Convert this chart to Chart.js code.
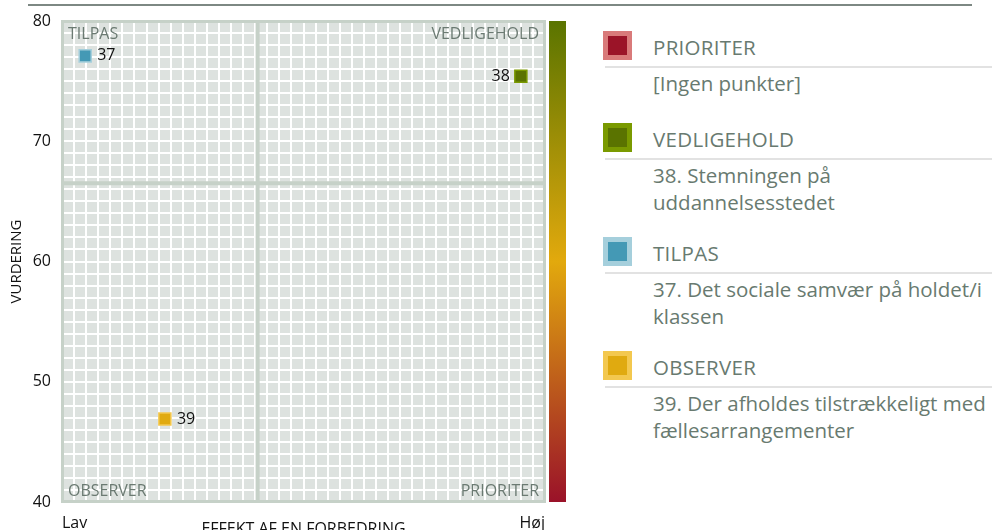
<!DOCTYPE html>
<html>
<head>
<meta charset="utf-8">
<script src="https://cdn.jsdelivr.net/npm/chart.js@4.4.0/dist/chart.umd.min.js"></script>
<style>
    body { margin: 0; width: 992px; height: 530px; overflow: hidden; background: #fff; position: relative; font-family: 'Open Sans', sans-serif; }
    #topLine { position: absolute; left: 28px; top: 4px; width: 944px; height: 2px; background: #7d8883; }
    #chartWrap { position: absolute; left: 0; top: 0; width: 580px; height: 530px; }
    .item { position: absolute; left: 603px; width: 389px; color: #687a70; font-size: 20.5px; }
    .head { height: 29px; display: flex; align-items: center; }
    .box { width: 29px; height: 29px; box-sizing: border-box; border: 5px solid; }
    .name { margin-left: 21px; line-height: 29px; padding-top: 4px; letter-spacing: 0.3px; }
    .sep { margin-top: 6px; margin-left: 2px; height: 2px; background: #e2e2e2; }
    .desc { margin-left: 50px; line-height: 27px; margin-top: 2px; white-space: nowrap; }
</style>
</head>
<body>
<div id="topLine"></div>
<div id="chartWrap"><canvas id="matrixChart" width="580" height="530"></canvas></div>
<div id="legend"></div>
<script>
    // points
    const pointIds = ['37', '38', '39'];
    const effekt = [4.8, 95, 21.3];
    const vurdering = [77.1, 75.4, 46.9];
    const pointFill = ['#4499b5', '#5a7300', '#e0aa10'];
    const pointBorder = ['#a5cfdc', '#7a9a00', '#f3c84f'];

    // axes
    const yTickValues = [40, 50, 60, 70, 80];
    const xTickLabels = ['Lav', 'Høj'];
    const midEffekt = 40.5;
    const midVurdering = 66.5;

    // quadrants + legend
    const quadrantNames = ['PRIORITER', 'VEDLIGEHOLD', 'TILPAS', 'OBSERVER'];
    const quadrantFill = ['#9b1428', '#5a7300', '#4499b5', '#e0aa10'];
    const quadrantBorder = ['#d97a7a', '#7a9a00', '#a5cfdc', '#f3c84f'];
    const quadrantItems = [
        ['[Ingen punkter]'],
        ['38. Stemningen på', 'uddannelsesstedet'],
        ['37. Det sociale samvær på holdet/i', 'klassen'],
        ['39. Der afholdes tilstrækkeligt med', 'fællesarrangementer']
    ];
    const legendTops = [31, 123, 237, 351];

    const legend = document.getElementById('legend');
    quadrantNames.forEach(function(name, i) {
        const item = document.createElement('div');
        item.className = 'item';
        item.style.top = legendTops[i] + 'px';
        item.innerHTML =
            '<div class="head"><div class="box" style="background:' + quadrantFill[i] +
            ';border-color:' + quadrantBorder[i] + '"></div><div class="name">' + name + '</div></div>' +
            '<div class="sep"></div>' +
            '<div class="desc">' + quadrantItems[i].join('<br>') + '</div>';
        legend.appendChild(item);
    });

    const decorPlugin = {
        id: 'decor',
        beforeDraw(chart) {
            const { ctx, chartArea: a } = chart;
            ctx.save();
            ctx.fillStyle = '#dde2df';
            ctx.fillRect(a.left, a.top, a.right - a.left, a.bottom - a.top);
            ctx.restore();
        },
        beforeDatasetsDraw(chart) {
            const { ctx, chartArea: a, scales } = chart;
            const mx = scales.x.getPixelForValue(midEffekt);
            const my = scales.y.getPixelForValue(midVurdering);
            ctx.save();
            ctx.strokeStyle = '#c6d1c8';
            ctx.lineWidth = 4;
            ctx.beginPath();
            ctx.moveTo(mx, a.top); ctx.lineTo(mx, a.bottom);
            ctx.moveTo(a.left, my); ctx.lineTo(a.right, my);
            ctx.stroke();
            ctx.lineWidth = 3;
            ctx.strokeRect(a.left + 0.5, a.top + 0.5, a.right - a.left - 1, a.bottom - a.top - 1);

            // colour bar
            const g = ctx.createLinearGradient(0, a.top, 0, a.bottom);
            g.addColorStop(0, '#5a7400');
            g.addColorStop(0.5, '#e2a90d');
            g.addColorStop(1, '#9a1229');
            ctx.fillStyle = g;
            ctx.fillRect(a.right + 4, a.top, 17, a.bottom - a.top);

            // quadrant captions
            ctx.fillStyle = '#6b7a72';
            ctx.font = '16px "Open Sans"';
            ctx.textBaseline = 'alphabetic';
            ctx.textAlign = 'left';
            ctx.fillText('TILPAS', a.left + 6, a.top + 18);
            ctx.fillText('OBSERVER', a.left + 6, a.bottom - 6);
            ctx.textAlign = 'right';
            ctx.fillText('VEDLIGEHOLD', a.right - 6, a.top + 18);
            ctx.fillText('PRIORITER', a.right - 6, a.bottom - 6);
            ctx.restore();
        },
        afterDraw(chart) {
            const { ctx } = chart;
            const meta = chart.getDatasetMeta(0);
            ctx.save();
            ctx.fillStyle = '#111';
            ctx.font = '16px "Open Sans"';
            ctx.textBaseline = 'middle';
            meta.data.forEach(function(pt, i) {
                if (effekt[i] > 90) {
                    ctx.textAlign = 'right';
                    ctx.fillText(pointIds[i], pt.x - 11, pt.y);
                } else {
                    ctx.textAlign = 'left';
                    ctx.fillText(pointIds[i], pt.x + 12, pt.y);
                }
            });
            ctx.restore();
        }
    };

    const ctx = document.getElementById('matrixChart').getContext('2d');
    const chart = new Chart(ctx, {
        type: 'scatter',
        data: {
            datasets: [{
                label: 'Punkter',
                data: effekt.map((x, i) => ({ x: x, y: vurdering[i] })),
                pointStyle: 'rect',
                pointRadius: 8.5,
                pointHoverRadius: 8.5,
                backgroundColor: pointFill,
                borderColor: pointBorder,
                borderWidth: 1.5
            }]
        },
        options: {
            responsive: false,
            animation: false,
            layout: { padding: { top: 21, right: 35, left: 0, bottom: 0 } },
            plugins: {
                legend: { display: false },
                tooltip: { enabled: false }
            },
            scales: {
                x: {
                    type: 'linear',
                    min: 0,
                    max: 100,
                    grid: { color: '#ffffff', lineWidth: 2, drawTicks: false },
                    border: { display: false },
                    ticks: {
                        stepSize: 2.5,
                        autoSkip: false,
                        maxRotation: 0,
                        align: 'inner',
                        padding: 12,
                        color: '#111',
                        font: { family: 'Open Sans', size: 16 },
                        callback: v => v === 0 ? xTickLabels[0] : (v === 100 ? xTickLabels[1] : '')
                    },
                    title: {
                        display: true,
                        text: 'EFFEKT AF EN FORBEDRING',
                        color: '#111',
                        font: { family: 'Open Sans', size: 16 },
                        padding: { top: 0, bottom: -9 }
                    },
                    afterFit: s => { s.height = 28; }
                },
                y: {
                    min: 40,
                    max: 80,
                    grid: { color: '#ffffff', lineWidth: 2, drawTicks: false },
                    border: { display: false },
                    ticks: {
                        stepSize: 1,
                        autoSkip: false,
                        padding: 11,
                        color: '#111',
                        font: { family: 'Open Sans', size: 16 },
                        callback: v => yTickValues.includes(v) ? v : ''
                    },
                    title: {
                        display: true,
                        text: 'VURDERING',
                        color: '#111',
                        font: { family: 'Open Sans', size: 15 },
                        padding: { top: 8, bottom: 0 }
                    },
                    afterFit: s => { s.width = 62; }
                }
            }
        },
        plugins: [decorPlugin]
    });
</script>
</body>
</html>
